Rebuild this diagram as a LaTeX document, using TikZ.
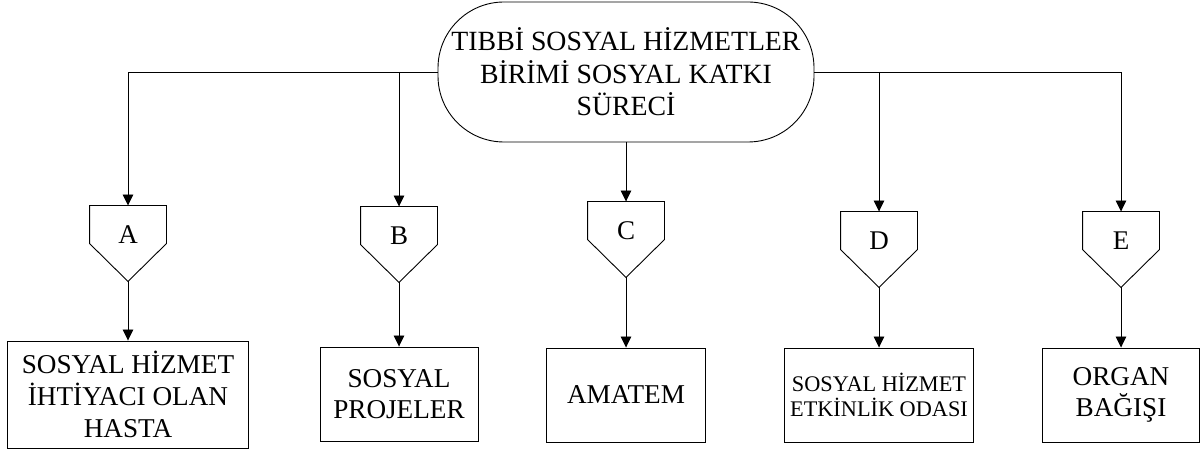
\documentclass[tikz,border=0pt]{standalone}
\usepackage{fontspec}
\setmainfont{Liberation Serif}
\usetikzlibrary{arrows.meta}
\tikzset{term/.style={draw, rounded corners=66pt, minimum width=376pt, minimum height=140pt, align=center, font=\fontsize{27.8}{32.5}\selectfont}}
\tikzset{pent/.style={minimum width=76pt, minimum height=75pt, inner sep=0pt, text height=18pt, text depth=18pt, font=\fontsize{27}{31.7}\selectfont}}
\tikzset{box/.style={draw, minimum height=94pt, align=center, inner sep=0pt, font=\fontsize{27.2}{31.7}\selectfont}}
\tikzset{arr/.style={-{Triangle[length=11pt,width=10.5pt]}}}

\begin{document}
\begin{tikzpicture}[x=1pt, y=1pt, line width=0.9pt]
    \useasboundingbox (0,0) rectangle (1204,452);
    \node[term] (top) at (626,380) {TIBBİ SOSYAL HİZMETLER\\BİRİMİ SOSYAL KATKI\\SÜRECİ};
    \node[pent] (pA) at (128,208.5) {A};
    \node[pent] (pB) at (399,207.5) {B};
    \node[pent] (pC) at (626,212.5) {C};
    \node[pent] (pD) at (879,202.5) {D};
    \node[pent] (pE) at (1121,202.5) {E};
    \foreach \n in {pA,pB,pC,pD,pE}
        \draw (\n.north west) -- (\n.north east) -- ([yshift=-38pt]\n.north east)
            -- (\n.south) -- ([yshift=-38pt]\n.north west) -- cycle;
    \node[box, minimum width=241pt, minimum height=107pt] (bA) at (128,57.5) {SOSYAL HİZMET\\İHTİYACI OLAN\\HASTA};
    \node[box, minimum width=158pt] (bB) at (399,58) {SOSYAL\\PROJELER};
    \node[box, minimum width=159pt] (bC) at (626,57) {AMATEM};
    \node[box, minimum width=189pt, font=\fontsize{22.3}{25}\selectfont] (bD) at (879,57) {SOSYAL HİZMET\\ETKİNLİK ODASI};
    \node[box, minimum width=157pt] (bE) at (1121,57) {ORGAN\\BAĞIŞI};
    \draw[arr] (top.west) -| (pA.north);
    \draw[arr] (top.west -| pB.north) -- (pB.north);
    \draw[arr] (top.south) -- (pC.north);
    \draw[arr] (top.east) -| (pE.north);
    \draw[arr] (top.east -| pD.north) -- (pD.north);
    \foreach \n/\m in {pA/bA,pB/bB,pC/bC,pD/bD,pE/bE}
        \draw[arr] (\n.south) -- (\m.north);
\end{tikzpicture}
\end{document}
